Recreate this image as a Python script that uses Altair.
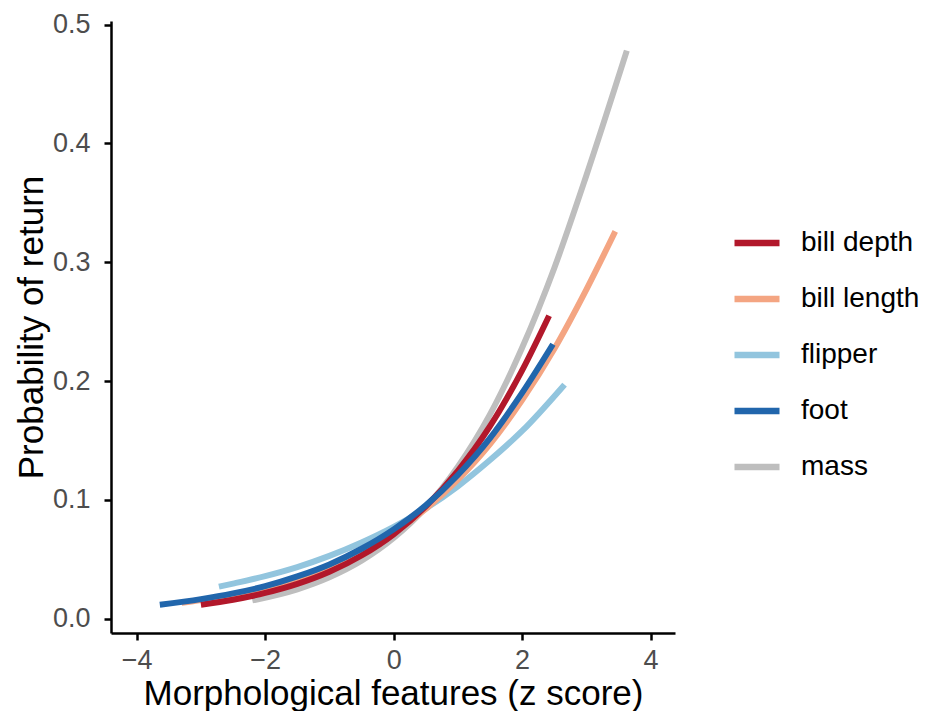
import altair as alt
import pandas as pd

# Values (x = z score, y = probability of return)
bill_depth_x = [-3.0, -2.5, -2.0, -1.5, -1.0, -0.5, 0.0, 0.5, 1.0, 1.5, 2.0, 2.42]
bill_depth_y = [0.0118, 0.0160, 0.0217, 0.0293, 0.0395, 0.0532, 0.0711, 0.0945, 0.1245, 0.162, 0.209, 0.255]

bill_length_x = [-3.3, -3.0, -2.5, -2.0, -1.5, -1.0, -0.5, 0.0, 0.5, 1.0, 1.5, 2.0, 2.5, 3.0, 3.45]
bill_length_y = [0.0134, 0.0157, 0.0203, 0.0263, 0.0341, 0.044, 0.0565, 0.0724, 0.0924, 0.117, 0.147, 0.184, 0.227, 0.277, 0.326]

flipper_x = [-2.72, -2.5, -2.0, -1.5, -1.0, -0.5, 0.0, 0.5, 1.0, 1.5, 2.0, 2.66]
flipper_y = [0.027, 0.0296, 0.0359, 0.0435, 0.0529, 0.0642, 0.0773, 0.0928, 0.1115, 0.1335, 0.158, 0.197]

foot_x = [-3.64, -3.0, -2.5, -2.0, -1.5, -1.0, -0.5, 0.0, 0.5, 1.0, 1.5, 2.0, 2.48]
foot_y = [0.0118, 0.0165, 0.0213, 0.0274, 0.0356, 0.0457, 0.0589, 0.0752, 0.0954, 0.121, 0.152, 0.190, 0.231]

mass_x = [-2.2, -1.5, -1.0, -0.5, 0.0, 0.5, 1.0, 1.5, 2.0, 2.5, 3.0, 3.63]
mass_y = [0.0154, 0.0248, 0.0349, 0.0488, 0.0679, 0.0936, 0.128, 0.172, 0.228, 0.295, 0.373, 0.478]

features = ["bill depth", "bill length", "flipper", "foot", "mass"]
colors = ["#B2182B", "#F4A582", "#92C5DE", "#2166AC", "#BEBEBE"]
x_ticks = [-4, -2, 0, 2, 4]
y_ticks = [0.0, 0.1, 0.2, 0.3, 0.4, 0.5]

series = {
    "bill depth": (bill_depth_x, bill_depth_y),
    "bill length": (bill_length_x, bill_length_y),
    "flipper": (flipper_x, flipper_y),
    "foot": (foot_x, foot_y),
    "mass": (mass_x, mass_y),
}
rows = []
for name, (xs, ys) in series.items():
    for i, (xv, yv) in enumerate(zip(xs, ys)):
        rows.append({"feature": name, "z": xv, "p": yv, "i": i})
df = pd.DataFrame(rows)

FONT = "Liberation Sans"

x_enc = alt.X("z:Q", scale=alt.Scale(domain=[-4.4, 4.38], nice=False, zero=False),
              axis=alt.Axis(values=x_ticks, title="Morphological features (z score)", format="d"))
y_enc = alt.Y("p:Q", scale=alt.Scale(domain=[-0.012, 0.503], nice=False, zero=False),
              axis=alt.Axis(values=y_ticks, title="Probability of return", format=".1f"))
color_enc = alt.Color("feature:N", scale=alt.Scale(domain=features, range=colors),
                      legend=alt.Legend(title=None, orient="none", legendX=620, legendY=196,
                                        symbolType="stroke", symbolSize=2025, symbolStrokeWidth=6.5,
                                        labelFontSize=28, labelFont=FONT, labelColor="black",
                                        labelOffset=18, rowPadding=16))

draw_order = ["mass", "flipper", "bill length", "bill depth", "foot"]
layers = []
for name in draw_order:
    layers.append(
        alt.Chart(df).transform_filter(alt.datum.feature == name)
        .mark_line(strokeWidth=6, strokeCap="butt", interpolate="monotone")
        .encode(x=x_enc, y=y_enc, color=color_enc, order="i:Q")
    )

chart = alt.layer(*layers).properties(
    width=564, height=612,
    autosize=alt.AutoSizeParams(type="none"),
    padding={"left": 103, "top": 13, "right": 244, "bottom": 78},
).configure_view(stroke=None).configure_axis(
    grid=False, domainColor="black", domainWidth=2.5, tickColor="black", tickWidth=2.5, tickSize=7,
    labelFont=FONT, labelFontSize=27, labelColor="#4D4D4D",
    titleFont=FONT, titleFontSize=35, titleColor="black", titleFontWeight="normal",
).configure_axisX(titlePadding=3, labelPadding=7).configure_axisY(titlePadding=3, labelPadding=14)

chart.save("out.html", embed_options={"renderer": "svg", "actions": False})
